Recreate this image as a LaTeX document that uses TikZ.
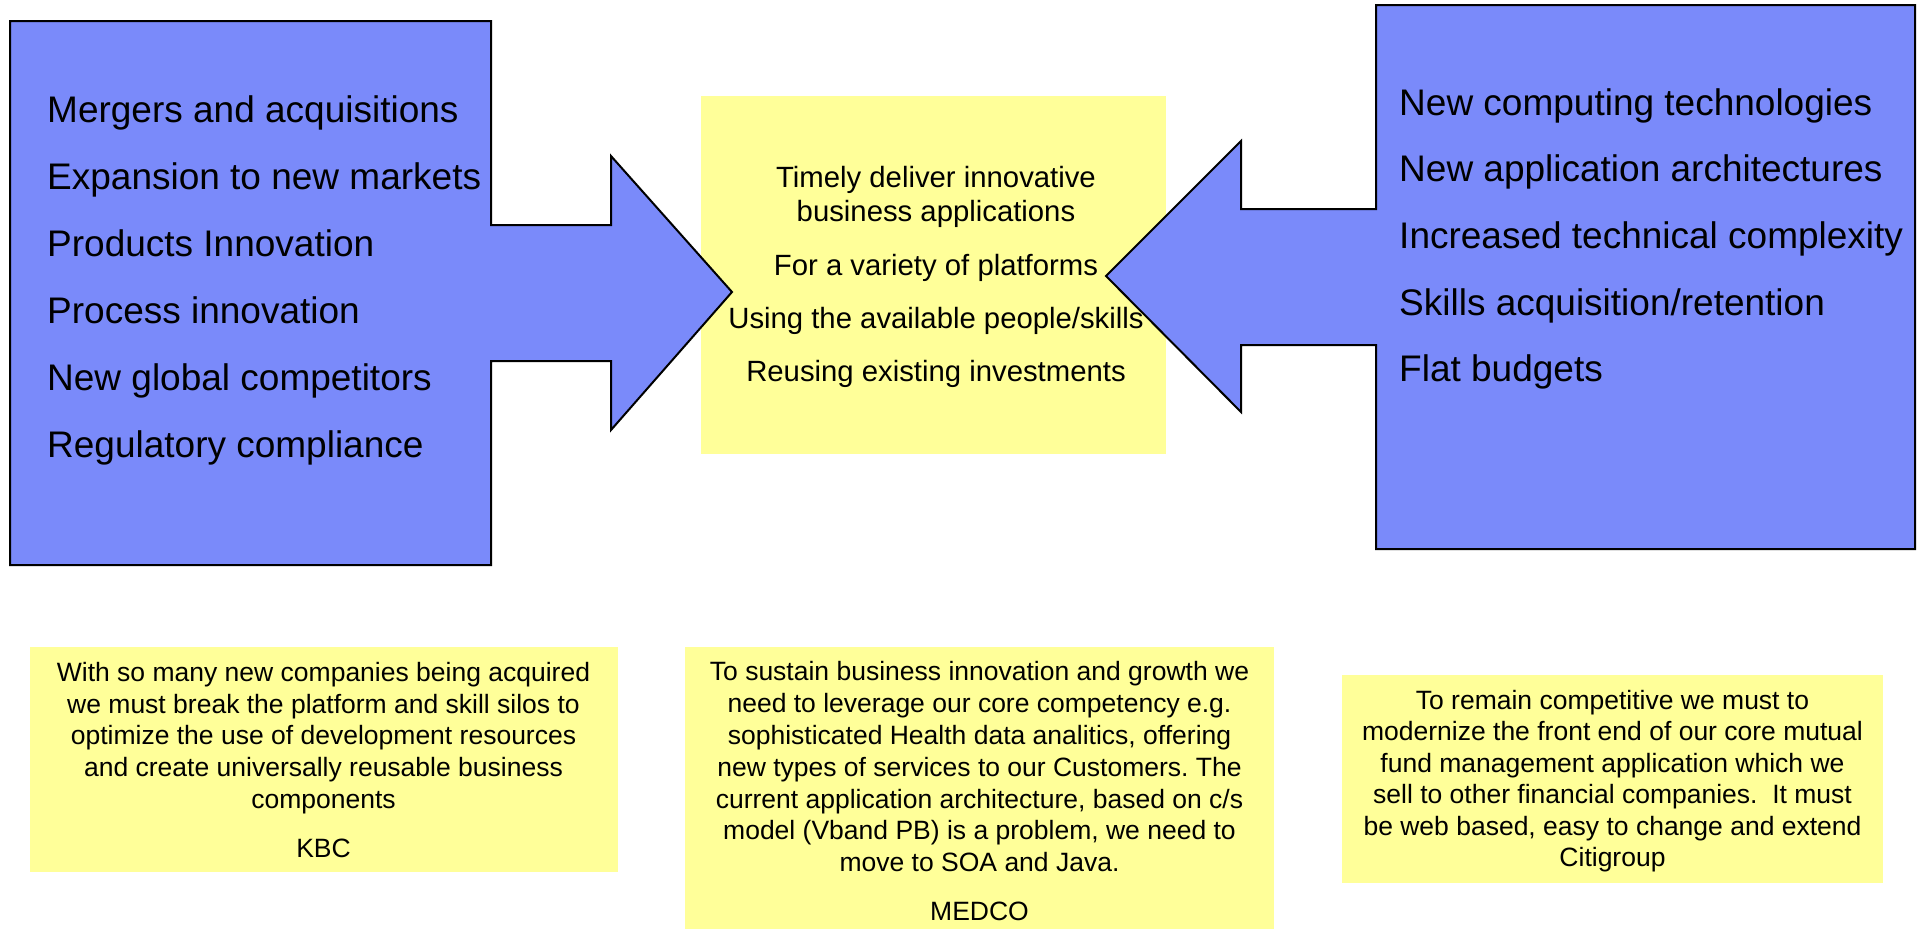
\documentclass[tikz,border=0pt]{standalone}
\usepackage{fontspec}
\setmainfont{Liberation Sans}
\frenchspacing
\definecolor{bluefill}{RGB}{122,138,250}
\definecolor{yel}{RGB}{255,255,153}
\tikzset{
  bigtxt/.style={font=\fontsize{37}{44}\selectfont, inner sep=0pt, anchor=base west},
  midtxt/.style={font=\fontsize{29.3}{34}\selectfont, inner sep=0pt, anchor=base},
  smalltxt/.style={font=\fontsize{26.5}{31.6}\selectfont, inner sep=0pt, anchor=base},
  blueshape/.style={fill=bluefill, draw=black, line width=2pt, line join=miter},
  yellowbox/.style={fill=yel}
}
\begin{document}
\begin{tikzpicture}[x=1pt,y=-1pt]
\useasboundingbox (0,0) rectangle (1925,930);
% middle yellow box
\path[yellowbox] (701,96) rectangle (1166,454);
% left box with arrow
\path[blueshape] (10,21) -- (491,21) -- (491,225) -- (611,225) -- (611,156) -- (732,292)
  -- (611,430) -- (611,361) -- (491,361) -- (491,565) -- (10,565) -- cycle;
% right box with arrow
\path[blueshape] (1376,5) -- (1915,5) -- (1915,549) -- (1376,549) -- (1376,345) -- (1241,345)
  -- (1241,412) -- (1106,276) -- (1241,141) -- (1241,209) -- (1376,209) -- cycle;
% left list
\foreach \t [count=\i from 0] in {Mergers and acquisitions, Expansion to new markets,
  Products Innovation, Process innovation, New global competitors, Regulatory compliance}
  \node[bigtxt] (L\i) at (47,122+67*\i) {\t};
% right list
\foreach \t [count=\i from 0] in {New computing technologies, New application architectures,
  Increased technical complexity, Skills acquisition/retention, Flat budgets}
  \node[bigtxt] (R\i) at (1399,115+66.7*\i) {\t};
% middle text
\node[midtxt] (M0) at (936,187) {Timely deliver innovative};
\node[midtxt] (M1) at (936,221) {business applications};
\node[midtxt] (M2) at (936,275) {For a variety of platforms};
\node[midtxt] (M3) at (936,328) {Using the available people/skills};
\node[midtxt] (M4) at (936,381) {Reusing existing investments};
% bottom boxes
\path[yellowbox] (29.5,647) rectangle (617.5,872);
\path[yellowbox] (685,647) rectangle (1274,929);
\path[yellowbox] (1342,675) rectangle (1883,883);
\foreach \t [count=\i from 0] in {With so many new companies being acquired,
  we must break the platform and skill silos to, optimize the use of development resources,
  and create universally reusable business, components}
  \node[smalltxt] (K\i) at (323.5,681.7+31.6*\i) {\t};
\node[smalltxt] (KBC) at (323.5,857) {KBC};
\foreach \t [count=\i from 0] in {To sustain business innovation and growth we,
  need to leverage our core competency e.g., {sophisticated Health data analitics, offering},
  new types of services to our Customers. The, {current application architecture, based on c/s},
  {model (Vband PB) is a problem, we need to}, move to SOA and Java.}
  \node[smalltxt] (D\i) at (979.5,680.7+31.83*\i) {\t};
\node[smalltxt] (MEDCO) at (979.5,920) {MEDCO};
\foreach \t [count=\i from 0] in {To remain competitive we must to,
  modernize the front end of our core mutual, fund management application which we,
  sell to other financial companies.\ \ It must, {be web based, easy to change and extend}, Citigroup}
  \node[smalltxt] (C\i) at (1612.5,709.3+31.5*\i) {\t};
\end{tikzpicture}
\end{document}
